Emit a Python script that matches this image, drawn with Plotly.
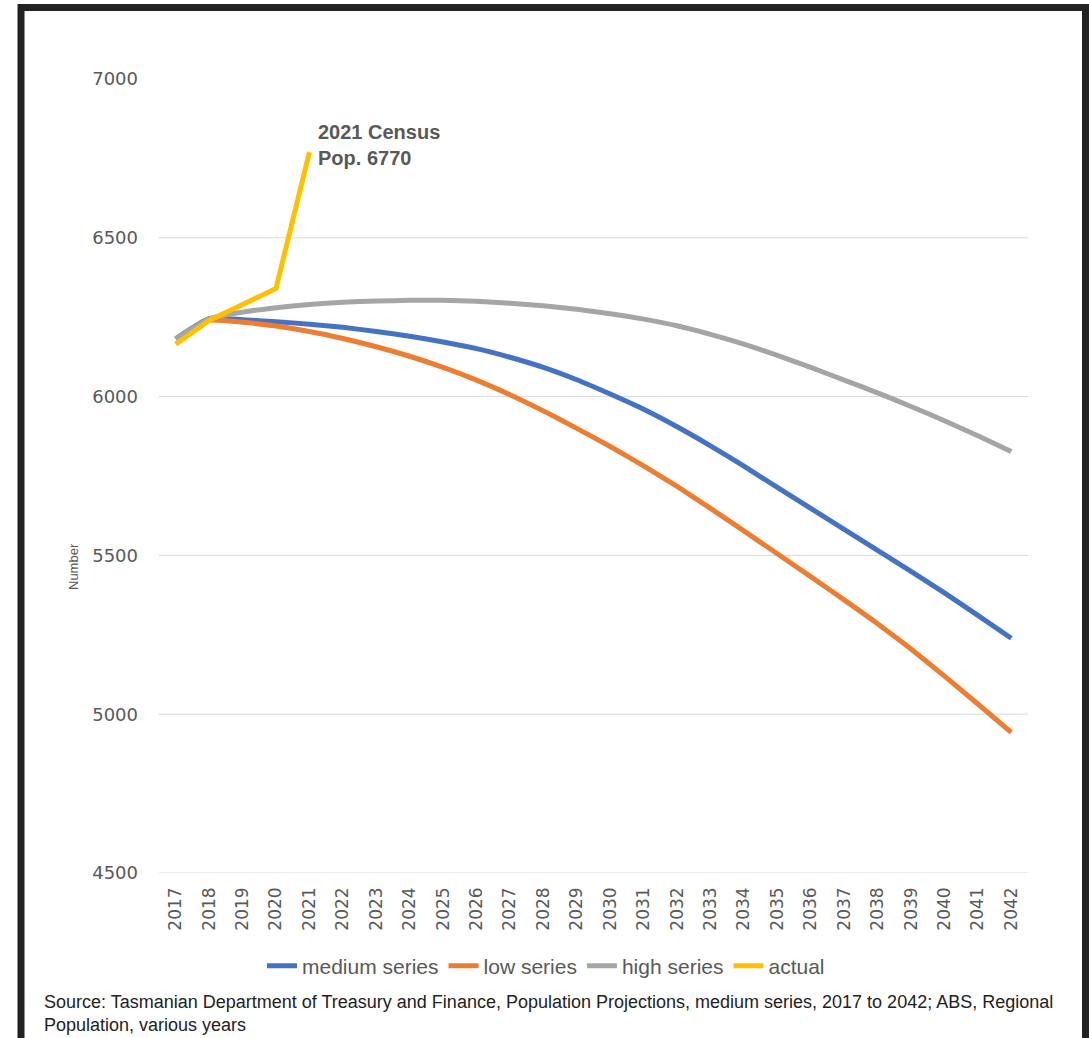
import plotly.graph_objects as go

years = [str(y) for y in range(2017, 2043)]

medium = [6182, 6245, 6242, 6236, 6228, 6218, 6205, 6190, 6172, 6151, 6124, 6092, 6053,
          6008, 5960, 5905, 5845, 5781, 5714, 5648, 5582, 5516, 5450, 5382, 5311, 5239]
low = [6182, 6240, 6234, 6222, 6205, 6183, 6157, 6127, 6092, 6052, 6006, 5955, 5900,
       5843, 5782, 5717, 5648, 5577, 5505, 5433, 5360, 5285, 5205, 5120, 5032, 4943]
high = [6182, 6245, 6266, 6280, 6290, 6297, 6301, 6303, 6303, 6300, 6294, 6286, 6275,
        6261, 6244, 6223, 6196, 6165, 6130, 6092, 6052, 6012, 5969, 5924, 5877, 5827]
actual_years = ["2017", "2018", "2019", "2020", "2021"]
actual = [6165, 6240, 6290, 6340, 6770]

y_ticks = [4500, 5000, 5500, 6000, 6500, 7000]
grid_vals = [4500, 5000, 5500, 6000, 6500]

W, H = 1089, 1038
L, R, T, B = 159, 61, 79, 165
pw, ph = W - L - R, H - T - B

def px(x):
    return (x - L) / pw

def py(y):
    return (H - B - y) / ph

fig = go.Figure()
series = [("medium series", medium, "#4472C4"),
          ("low series", low, "#ED7D31"),
          ("high series", high, "#A5A5A5")]
for name, vals, col in series:
    fig.add_trace(go.Scatter(x=years, y=vals, name=name, mode="lines",
                             line=dict(color=col, width=5, shape="spline", smoothing=0.5)))
fig.add_trace(go.Scatter(x=actual_years, y=actual, name="actual", mode="lines",
                         line=dict(color="#FFC000", width=5)))

shapes = []
for g in grid_vals:
    shapes.append(dict(type="line", xref="paper", yref="y", x0=0, x1=1, y0=g, y1=g,
                       line=dict(color="#D9D9D9", width=1), layer="below"))
shapes.append(dict(type="rect", xref="paper", yref="paper",
                   x0=px(21), x1=px(1085.5), y0=py(1060), y1=py(7.5),
                   line=dict(color="#222222", width=7), layer="above"))

annotations = [
    dict(x=actual_years.index("2021"), y=actual[-1], xref="x", yref="y",
         text="<b>2021 Census<br>Pop. 6770</b>",
         showarrow=False, xanchor="left", yanchor="middle", xshift=7, yshift=7, align="left",
         font=dict(family="Liberation Sans, Arial", size=20, color="#595959")),
    dict(x=px(73), y=py(567), xref="paper", yref="paper", text="Number", textangle=-90,
         showarrow=False, xanchor="center", yanchor="middle",
         font=dict(family="Liberation Sans", size=13, color="#595959")),
    dict(x=px(42), y=py(990), xref="paper", yref="paper",
         text="Source: Tasmanian Department of Treasury and Finance, Population Projections, medium series, 2017 to 2042; ABS, Regional<br>Population, various years",
         showarrow=False, xanchor="left", yanchor="top", align="left",
         font=dict(family="Liberation Sans", size=18, color="#222222")),
]

fig.update_layout(
    width=W, height=H,
    margin=dict(l=L, r=R, t=T, b=B),
    paper_bgcolor="white", plot_bgcolor="white",
    showlegend=True,
    legend=dict(orientation="h", x=px(546), y=py(966), xanchor="center", yanchor="middle",
                font=dict(family="Liberation Sans", size=21, color="#595959"),
                itemwidth=30, tracegroupgap=0),
    shapes=shapes,
    annotations=annotations,
)
fig.update_xaxes(type="category", categoryorder="array", categoryarray=years,
                 range=[-0.5, len(years) - 0.5], showgrid=False, showline=False, zeroline=False,
                 tickangle=-90, ticks="", ticklabelstandoff=10,
                 tickfont=dict(family="DejaVu Sans", size=17, color="#595959"))
fig.update_yaxes(range=[4500, 7000], tickvals=y_ticks, showgrid=False, showline=False,
                 zeroline=False, ticks="", ticklabelstandoff=20,
                 tickfont=dict(family="DejaVu Sans", size=18, color="#595959"))

fig.write_html("out.html")
